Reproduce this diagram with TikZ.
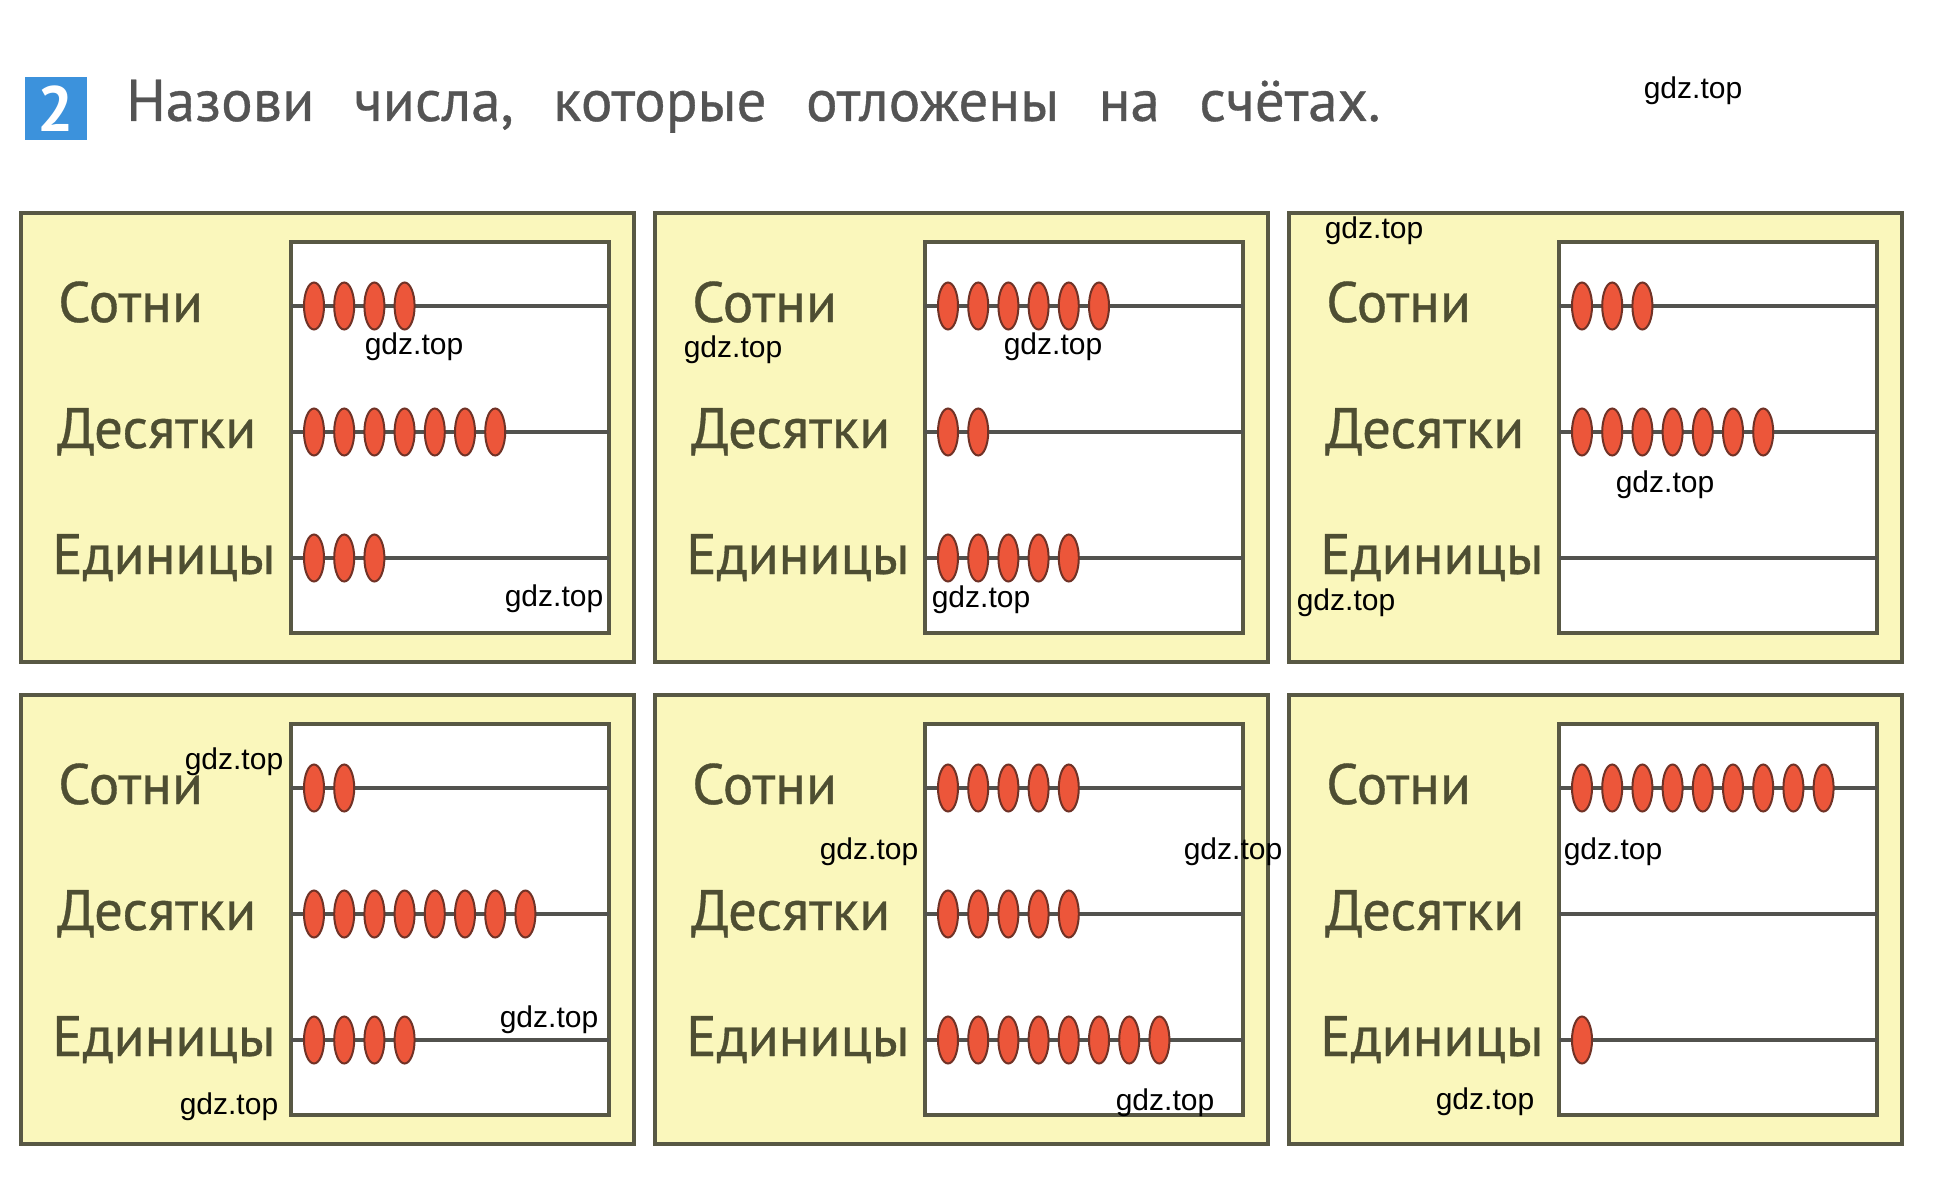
\documentclass[tikz,border=0pt]{standalone}
\usepackage{fontspec}
\setmainfont{PT Sans}
\newfontfamily\labelfont[FakeBold=0.6]{PT Sans}
\newfontfamily\wmfont{Liberation Sans}
\usetikzlibrary{positioning}

\definecolor{panelfill}{RGB}{250,247,188}
\definecolor{panelline}{RGB}{88,88,68}
\definecolor{rodgray}{RGB}{82,82,78}
\definecolor{beadred}{RGB}{236,86,58}
\definecolor{beadedge}{RGB}{112,50,38}
\definecolor{labelcol}{RGB}{78,78,50}
\definecolor{titlegray}{RGB}{84,84,84}
\definecolor{taskblue}{RGB}{60,146,220}

\tikzset{
  panel/.style={draw=panelline, line width=4.5pt, fill=panelfill},
  frame/.style={draw=panelline, line width=4pt, fill=white},
  rod/.style={draw=rodgray, line width=3.5pt},
  bead/.style={draw=beadedge, line width=2pt, fill=beadred},
  rowlabel/.style={anchor=base west, inner sep=0pt, text=labelcol, font=\labelfont\fontsize{57}{60}\selectfont},
  watermark/.style={inner sep=0pt, text=black, font=\wmfont\fontsize{30}{32}\selectfont},
  tasktitle/.style={anchor=base west, inner sep=0pt, text=titlegray, font=\labelfont\fontsize{59}{62}\selectfont},
  numbox/.style={fill=taskblue, minimum width=62pt, minimum height=63pt, inner sep=0pt, text=white, font=\bfseries\fontsize{64}{64}\selectfont}
}

% one rod with its beads: #1 rod y, #2 number of beads
\newcommand{\abacusrow}[2]{%
  \draw[rod] (270,#1) -- (588,#1);
  \foreach \k in {1,...,9}{\ifnum\k>#2\else
    \draw[bead] ({293+30.2*(\k-1)},#1) ellipse [x radius=10pt, y radius=23.5pt];\fi}}

% #1 name, #2,#3 top left corner, #4 hundreds, #5 tens, #6 units
\newcommand{\abacus}[6]{%
  \begin{scope}[shift={(#2,#3)}]
    \draw[panel] (0,0) rectangle (613,449);
    \draw[frame] (270,29) rectangle (588,420);
    \node[rowlabel] (#1-h) at (37,109) {Сотни};
    \node[rowlabel] (#1-t) at (36,235) {Десятки};
    \node[rowlabel] (#1-u) at (31,361) {Единицы};
    \abacusrow{93}{#4}
    \abacusrow{219}{#5}
    \abacusrow{345}{#6}
  \end{scope}}

\begin{document}
\begin{tikzpicture}[x=1pt, y=-1pt]
    \useasboundingbox (0,0) rectangle (1960,1180);

    % Task heading
    \node[numbox] (num) at (56,109) {2};
    \node[tasktitle] (title) at (126,121) {\spaceskip=0.67em Назови числа, которые отложены на счётах.};

    % Abacus panels
    \abacus{p1}{21}{213}{4}{7}{3}
    \abacus{p2}{655}{213}{6}{2}{5}
    \abacus{p3}{1289}{213}{3}{7}{0}
    \abacus{p4}{21}{695}{2}{8}{4}
    \abacus{p5}{655}{695}{5}{5}{8}
    \abacus{p6}{1289}{695}{9}{0}{1}

    % Watermarks
    \foreach \wx/\wy [count=\n] in {1693/91, 414/347, 554/599, 733/350, 1053/347, 981/600,
        1374/231, 1665/485, 1346/603, 234/762, 549/1020, 229/1107,
        869/852, 1233/852, 1165/1103, 1613/852, 1485/1102}
      \node[watermark] (wm\n) at (\wx,\wy) {gdz.top};
\end{tikzpicture}
\end{document}
